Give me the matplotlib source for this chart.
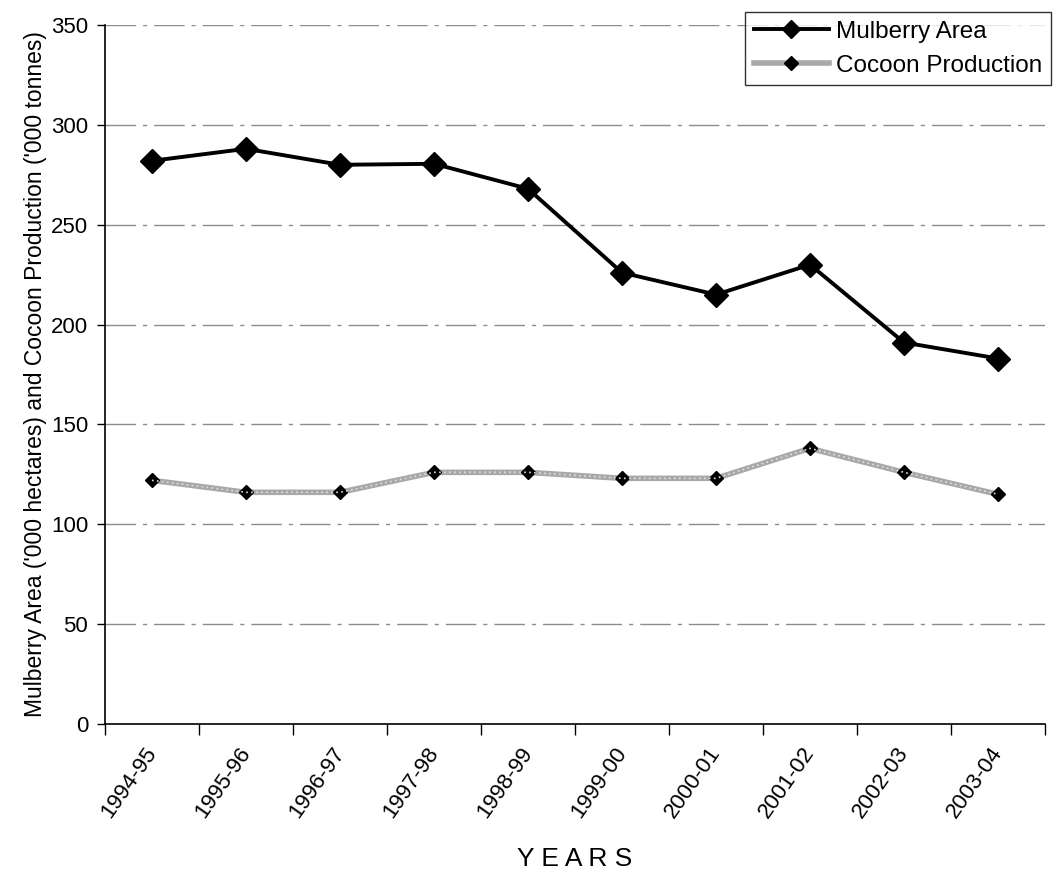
import matplotlib.pyplot as plt
import numpy as np

plt.rcParams['font.family'] = ['Liberation Sans', 'DejaVu Sans']

years = ['1994-95', '1995-96', '1996-97', '1997-98', '1998-99',
         '1999-00', '2000-01', '2001-02', '2002-03', '2003-04']
mulberry_area = [282, 288, 280, 280.5, 268, 226, 215, 230, 191, 183]
cocoon_production = [122, 116, 116, 126, 126, 123, 123, 138, 126, 115]

x = np.arange(len(years))

fig = plt.figure(figsize=(10.57, 8.71), dpi=100)
ax = fig.add_axes([0.0993, 0.1688, 0.8894, 0.8025])

# grey gridlines, broken dashes
for yv in range(50, 351, 50):
    ax.axhline(yv, color='#8c8c8c', lw=1.0, ls=(0, (22, 5, 3, 5)), zorder=0)

ax.plot(x, cocoon_production, color='#a8a8a8', lw=4, zorder=2,
        marker='D', markersize=7, markerfacecolor='black',
        markeredgecolor='black', label='Cocoon Production')
ax.plot(x, cocoon_production, color='#e0e0e0', lw=1.2, ls=(0, (1, 2)), zorder=2)
ax.plot(x, mulberry_area, color='black', lw=2.8, zorder=3,
        marker='D', markersize=12, markerfacecolor='black',
        markeredgecolor='black', label='Mulberry Area')

ax.set_xlim(-0.5, len(years) - 0.5)
ax.set_ylim(0, 350)
ax.set_yticks(range(0, 351, 50))
ax.tick_params(axis='y', labelsize=16, length=6, width=1, direction='out', pad=6)

# labels centred on categories, ticks on category boundaries
ax.set_xticks(x)
ax.set_xticklabels(years, rotation=55, ha='right', va='center',
                   rotation_mode='anchor', fontsize=16)
ax.tick_params(axis='x', which='major', length=0, pad=18)
ax.set_xticks(np.arange(-0.5, len(years)), minor=True)
ax.tick_params(axis='x', which='minor', length=8, width=1, direction='out')

for side in ['top', 'right']:
    ax.spines[side].set_visible(False)
for side in ['left', 'bottom']:
    ax.spines[side].set_linewidth(1.2)

ax.set_ylabel("Mulberry Area ('000 hectares) and Cocoon Production ('000 tonnes)",
              fontsize=16.5, labelpad=3)
ax.set_xlabel('Y E A R S', fontsize=19, labelpad=18)

handles, labels = ax.get_legend_handles_labels()
leg = fig.legend(handles[::-1], labels[::-1], loc='upper left',
                 bbox_to_anchor=(745 / 1057, 1 - 12 / 871), fontsize=17.5,
                 frameon=True, fancybox=False, edgecolor='black',
                 handlelength=3.1, borderpad=0.35, labelspacing=0.5,
                 handletextpad=0.3, borderaxespad=0)
leg.get_frame().set_linewidth(1.0)
# smaller diamonds in the legend keys
leg.legend_handles[0].set_markersize(9)
leg.legend_handles[1].set_markersize(7)

fig.savefig('out.png', dpi=100)
